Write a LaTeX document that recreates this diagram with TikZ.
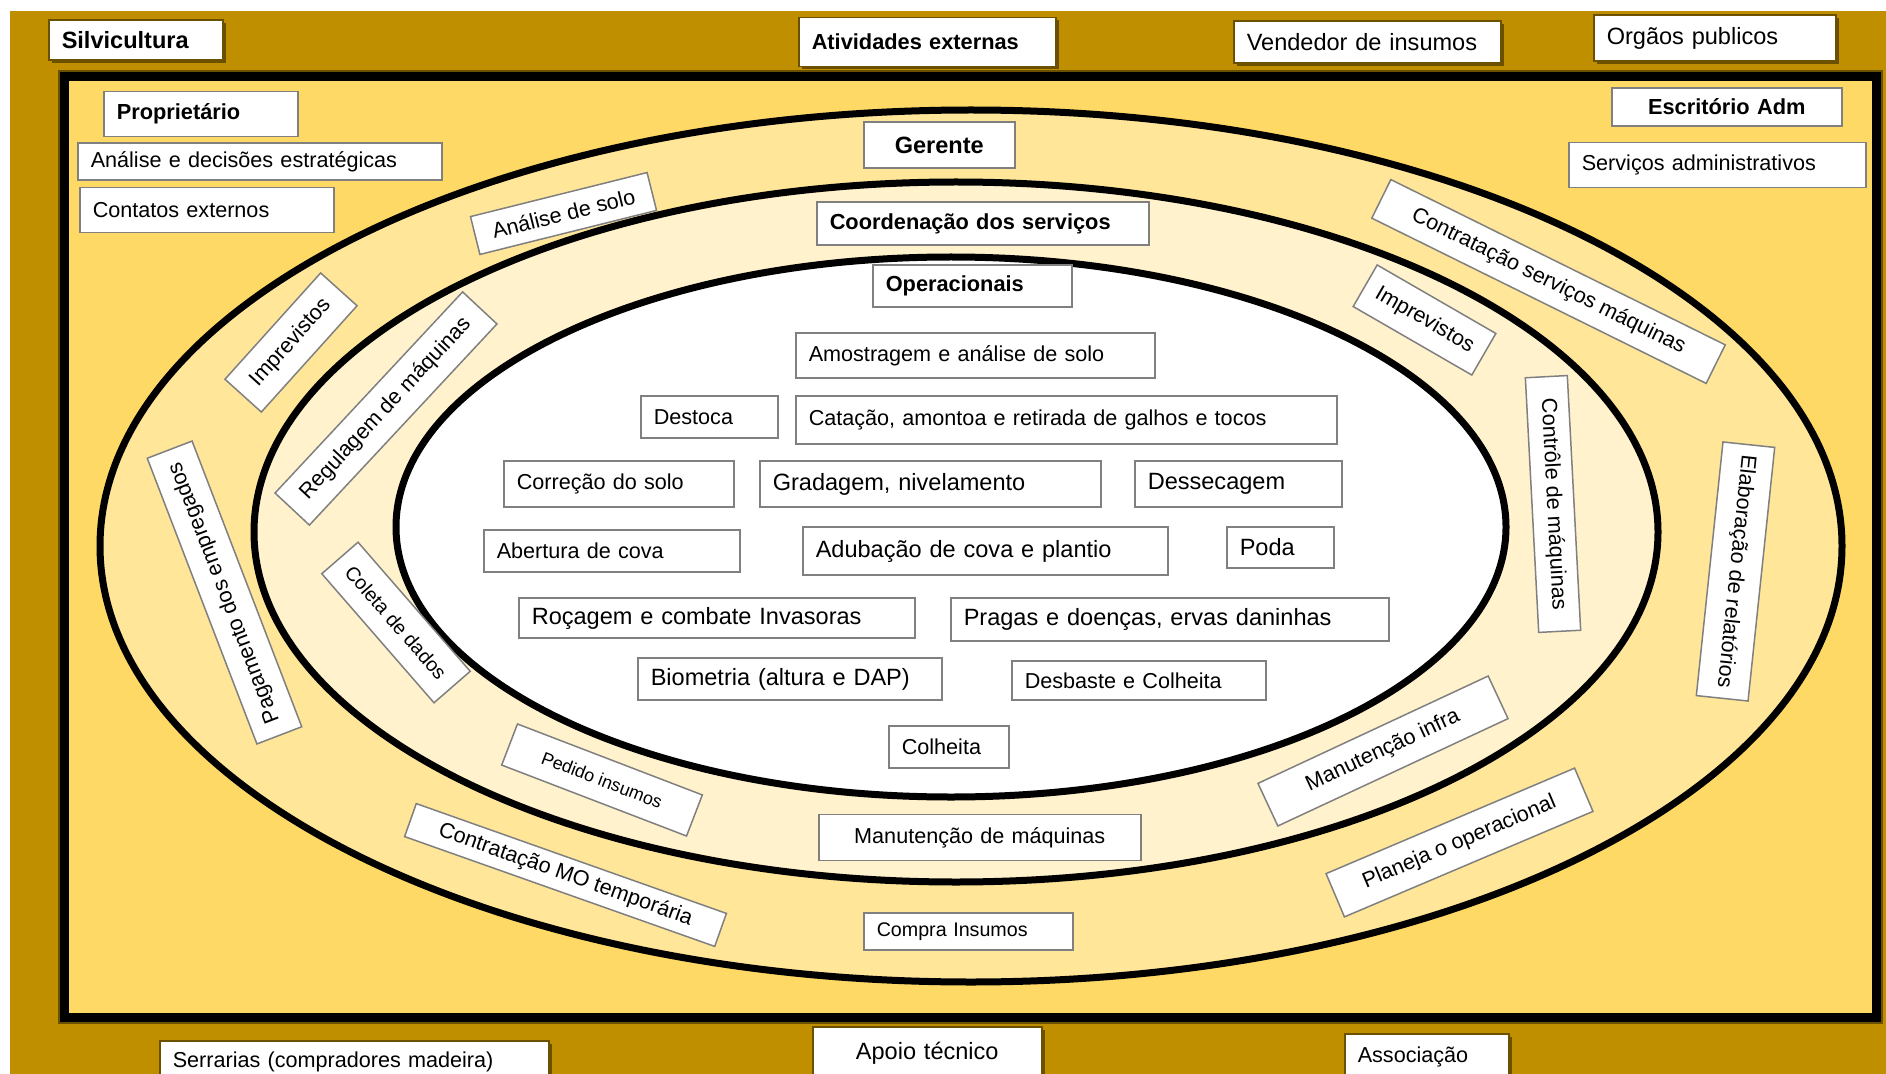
\documentclass[tikz,border=0pt]{standalone}
\usepackage{fontspec}
\setmainfont{Liberation Sans}
\usetikzlibrary{shadows}

\newlength\unitpx
\setlength\unitpx{0.02cm}

\definecolor{band}{HTML}{BF8F00}
\definecolor{bandedge}{HTML}{6B5000}
\definecolor{framefill}{HTML}{FFD966}
\definecolor{ringout}{HTML}{FFE699}
\definecolor{ringmid}{HTML}{FFF2CC}
\definecolor{boxedge}{HTML}{808080}

\newcommand\fsreg{\fontsize{12.3}{14}\selectfont}
\newcommand\fsbig{\fontsize{13.4}{15}\selectfont}
\newcommand\fssmall{\fontsize{11.2}{13}\selectfont}
\newcommand\fstiny{\fontsize{10.2}{12}\selectfont}
\newcommand\fsbold{\fontsize{12.4}{14}\selectfont\bfseries}

\begin{document}
\begin{tikzpicture}[
  x=0.02cm, y=-0.02cm,
  box/.style={draw=boxedge, fill=white, line width=1.5\unitpx, font=\fsreg, inner xsep=13\unitpx, inner ysep=0pt, align=left, anchor=west},
  bandbox/.style={box, draw=bandedge, drop shadow={shadow xshift=3\unitpx, shadow yshift=-3\unitpx, fill=bandedge, opacity=1}},
  tag/.style={draw=boxedge, fill=white, line width=1.5\unitpx, font=\fsreg, inner sep=0pt, align=center},
  ring/.style={draw=black, line width=7\unitpx}
]
\useasboundingbox (0,0) rectangle (1886,1074);
\clip (0,0) rectangle (1886,1074);

% background, frame and the three levels
\fill[band] (10,11) rectangle (1886,1074);
\draw[bandedge, line width=13\unitpx] (64,77) rectangle (1876,1017);
\draw[fill=framefill, line width=9\unitpx] (64,77) rectangle (1876,1017);
\draw[ring, fill=ringout] (971,546) ellipse [x radius=871\unitpx, y radius=436\unitpx];
\draw[ring, fill=ringmid] (956,532) ellipse [x radius=702\unitpx, y radius=350\unitpx];
\draw[ring, fill=white] (951,527) ellipse [x radius=555\unitpx, y radius=270\unitpx];

% outside actors
\node[bandbox, font=\fsbig\bfseries, text width=148\unitpx, minimum height=40\unitpx] (silv) at (48,40) {Silvicultura};
\node[bandbox, font=\fsbold, text width=231\unitpx, minimum height=49\unitpx] (ativ) at (798,42) {Atividades externas};
\node[bandbox, font=\fsbig, text width=241\unitpx, minimum height=42\unitpx] (vend) at (1233,42) {Vendedor de insumos};
\node[bandbox, font=\fsbig, text width=216\unitpx, minimum height=46\unitpx] (orgaos) at (1593,38) {Orgãos publicos};
\node[bandbox, text width=363\unitpx, minimum height=41\unitpx] (serrarias) at (159,1061.5) {Serrarias (compradores madeira)};
\node[bandbox, font=\fsbig, text width=203\unitpx, minimum height=53\unitpx, align=center] (apoio) at (812,1053.5) {Apoio técnico};
\node[bandbox, text width=138\unitpx, minimum height=46\unitpx] (assoc) at (1344,1057) {Associação};

% owner and office
\node[box, font=\fsbold, text width=168\unitpx, minimum height=45\unitpx] (prop) at (103,114) {Proprietário};
\node[box, text width=338\unitpx, minimum height=37\unitpx] (decisoes) at (77,161.5) {Análise e decisões estratégicas};
\node[box, text width=228\unitpx, minimum height=45\unitpx] (contatos) at (79,210) {Contatos externos};
\node[box, font=\fsbold, text width=204\unitpx, minimum height=38\unitpx, align=center] (escrit) at (1611,107) {Escritório Adm};
\node[box, text width=271\unitpx, minimum height=45\unitpx] (servadm) at (1568,165) {Serviços administrativos};

% level titles
\node[box, font=\fsbig\bfseries, text width=125\unitpx, minimum height=46\unitpx, align=center] (gerente) at (863,145) {Gerente};
\node[box, font=\fsbold, text width=306\unitpx, minimum height=43\unitpx] (coord) at (816,223.5) {Coordenação dos serviços};
\node[box, font=\fsbold, text width=173\unitpx, minimum height=42\unitpx] (oper) at (872,286) {Operacionais};

% operational tasks
\node[box, text width=333\unitpx, minimum height=45\unitpx] (amost) at (795,355.5) {Amostragem e análise de solo};
\node[box, text width=111\unitpx, minimum height=42\unitpx] (destoca) at (640,417) {Destoca};
\node[box, text width=515\unitpx, minimum height=48\unitpx] (catacao) at (795,420) {Catação, amontoa e retirada de galhos e tocos};
\node[box, text width=204\unitpx, minimum height=46\unitpx] (correcao) at (503,484) {Correção do solo};
\node[box, font=\fsbig, text width=315\unitpx, minimum height=46\unitpx] (gradagem) at (759,484) {Gradagem, nivelamento};
\node[box, font=\fsbig, text width=181\unitpx, minimum height=46\unitpx] (dessec) at (1134,484) {Dessecagem};
\node[box, text width=230\unitpx, minimum height=42\unitpx] (abertura) at (483,551) {Abertura de cova};
\node[box, font=\fsbig, text width=339\unitpx, minimum height=48\unitpx] (adubacao) at (802,551) {Adubação de cova e plantio};
\node[box, font=\fsbig, text width=81\unitpx, minimum height=41\unitpx] (poda) at (1226,547.5) {Poda};
\node[box, font=\fsbig, text width=370\unitpx, minimum height=40\unitpx] (rocagem) at (518,618) {Roçagem e combate Invasoras};
\node[box, font=\fsbig, text width=412\unitpx, minimum height=43\unitpx] (pragas) at (950,619.5) {Pragas e doenças, ervas daninhas};
\node[box, font=\fsbig, text width=278\unitpx, minimum height=42\unitpx] (biometria) at (637,679) {Biometria (altura e DAP)};
\node[box, text width=228\unitpx, minimum height=39\unitpx] (desbaste) at (1011,680.5) {Desbaste e Colheita};
\node[box, text width=94\unitpx, minimum height=42\unitpx] (colheita) at (888,747) {Colheita};

% coordination ring
\node[box, text width=296\unitpx, minimum height=46\unitpx, align=center] (manutmaq) at (818,837.5) {Manutenção de máquinas};
\node[tag, minimum width=275\unitpx, minimum height=47\unitpx, rotate=47] (regul) at (386,408.5) {Regulagem de máquinas};
\node[tag, font=\fssmall, minimum width=171\unitpx, minimum height=48\unitpx, rotate=-49] (coleta) at (396,622.5) {Coleta de dados};
\node[tag, font=\fstiny, minimum width=198\unitpx, minimum height=44\unitpx, rotate=-21] (pedido) at (602,780) {Pedido insumos};
\node[tag, minimum width=137\unitpx, minimum height=48\unitpx, rotate=-30] (imprevr) at (1424.5,320) {Imprevistos};
\node[tag, minimum width=255\unitpx, minimum height=42\unitpx, rotate=-87] (controle) at (1553,504) {Contrôle de máquinas};
\node[tag, minimum width=254\unitpx, minimum height=47\unitpx, rotate=25] (infra) at (1383,751) {Manutenção infra};

% manager ring
\node[box, font=\fssmall, text width=183\unitpx, minimum height=37\unitpx] (compra) at (863,931.5) {Compra Insumos};
\node[tag, minimum width=182\unitpx, minimum height=39\unitpx, rotate=14] (solo) at (563.5,213.5) {Análise de solo};
\node[tag, minimum width=143\unitpx, minimum height=49\unitpx, rotate=48] (imprevl) at (291,342.5) {Imprevistos};
\node[tag, minimum width=306\unitpx, minimum height=48\unitpx, rotate=111] (pagam) at (224.5,592.5) {Pagamento dos empregados};
\node[tag, minimum width=329\unitpx, minimum height=35\unitpx, rotate=-19.5] (contratmo) at (565.5,875) {Contratação MO temporária};
\node[tag, minimum width=373\unitpx, minimum height=43\unitpx, rotate=-26.3] (contratmaq) at (1548.5,281.5) {Contratação serviços máquinas};
\node[tag, minimum width=255\unitpx, minimum height=52\unitpx, rotate=-96] (relat) at (1735.5,571.5) {Elaboração de relatórios};
\node[tag, minimum width=270\unitpx, minimum height=47\unitpx, rotate=23] (planeja) at (1459.5,842.5) {Planeja o operacional};
\end{tikzpicture}
\end{document}
